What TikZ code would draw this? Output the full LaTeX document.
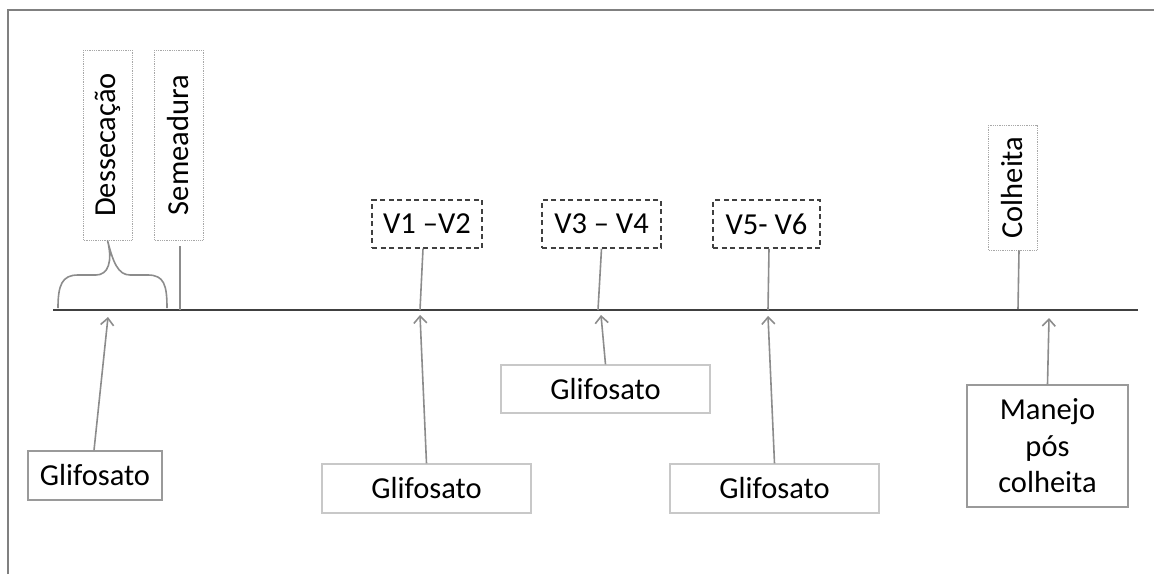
\documentclass[tikz,border=0pt]{standalone}
\usepackage{fontspec}
\setmainfont{Carlito}
\usetikzlibrary{arrows.meta}
\definecolor{tlgray}{HTML}{404040}
\definecolor{conngray}{HTML}{8C8C8C}
\definecolor{boxlight}{HTML}{C8C8C8}
\definecolor{boxmid}{HTML}{9A9A9A}
\definecolor{dotgray}{HTML}{A8A8A8}
\definecolor{framegray}{HTML}{808080}
\tikzset{
  every node/.style={font=\fontsize{30.5}{36.5}\selectfont, inner sep=0pt, align=center},
  vlabel/.style={draw=dotgray, densely dotted, line width=0.8pt, rotate=90, minimum width=190pt, minimum height=49pt},
  stagebox/.style={draw=tlgray, dashed, dash pattern=on 5pt off 3.5pt, line width=1.5pt, minimum height=48pt},
  herbbox/.style={draw=boxlight, line width=1.2pt, minimum height=49pt},
  herbboxdark/.style={draw=boxmid, line width=1.3pt, minimum height=49pt},
  conn/.style={draw=conngray, line width=1.6pt},
  arr/.style={draw=conngray, line width=1.6pt, -{Straight Barb[length=7pt,width=13pt,line width=1.6pt]}},
  timeline/.style={draw=tlgray, line width=2pt},
  framestyle/.style={draw=framegray, line width=1.2pt}
}
\begin{document}
\begin{tikzpicture}[x=1pt,y=-1pt]
\useasboundingbox (0,0) rectangle (1154,574);
% frame
\draw[framestyle] (8,574) -- (8,10) -- (1154,10);
% timeline
\coordinate (tl0) at (53,310);
\coordinate (tl1) at (1138,310);
\draw[timeline] (tl0) -- (tl1);
% vertical labels
\node[vlabel] (des) at (107.5,145) {Dessecação};
\node[vlabel] (sem) at (178.5,145) {Semeadura};
\node[vlabel, minimum width=125pt] (col) at (1012.5,187.5) {Colheita};
% stage boxes
\node[stagebox, minimum width=110pt] (v12) at (427,224) {V1 –V2};
\node[stagebox, minimum width=119pt] (v34) at (601.5,224) {V3 – V4};
\node[stagebox, minimum width=107pt] (v56) at (766.5,224) {V5- V6};
% herbicide boxes
\node[herbboxdark, minimum width=134pt] (g1) at (95,475.5) {Glifosato};
\node[herbbox, minimum width=209pt] (g2) at (426.5,488.5) {Glifosato};
\node[herbbox, minimum width=209pt, minimum height=48pt] (g34) at (605.5,389) {Glifosato};
\node[herbbox, minimum width=209pt] (g3) at (774.5,488.5) {Glifosato};
\node[herbboxdark, minimum width=161pt, minimum height=122pt] (man) at (1047.5,446) {Manejo\\pós\\colheita};
% timeline points
\coordinate (tsem) at (180,310);
\coordinate (t12) at (420,310);
\coordinate (t34) at (598,310);
\coordinate (t56) at (768,310);
\coordinate (tcol) at (1018,309);
\coordinate (a1) at (108,317);
\coordinate (a12) at (420,315);
\coordinate (a34) at (601,315);
\coordinate (a56) at (768,316);
\coordinate (aman) at (1049,318);
% brace under Dessecação
\draw[conn] (58,308) .. controls (58,285) and (62,275) .. (78,275)
  -- (96,275) .. controls (108,275) and (113,262) .. (des.west)
  .. controls (113,262) and (118,275) .. (130,275)
  -- (148,275) .. controls (164,275) and (167,285) .. (167,308);
% connectors label -> timeline
\draw[conn] ([xshift=1.5pt,yshift=-6pt]sem.west) -- (tsem);
\draw[conn] ([xshift=-4pt]v12.south) -- (t12);
\draw[conn] (v34.south) -- (t34);
\draw[conn] ([xshift=2.5pt]v56.south) -- (t56);
\draw[conn] ([xshift=6.5pt]col.west) -- (tcol);
% arrows herbicide -> timeline
\draw[arr] ([xshift=-1pt]g1.north) -- (a1);
\draw[arr] (g2.north) -- (a12);
\draw[arr] (g34.north) -- (a34);
\draw[arr] (g3.north) -- (a56);
\draw[arr] (man.north) -- (aman);
\end{tikzpicture}
\end{document}
